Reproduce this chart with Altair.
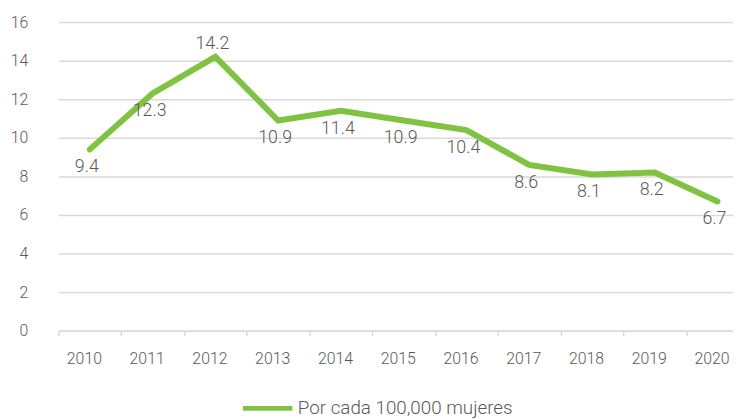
import altair as alt
import pandas as pd

years = ["2010", "2011", "2012", "2013", "2014", "2015", "2016", "2017", "2018", "2019", "2020"]
values = [9.4, 12.3, 14.2, 10.9, 11.4, 10.9, 10.4, 8.6, 8.1, 8.2, 6.7]
series_name = "Por cada 100,000 mujeres"
y_ticks = [0, 2, 4, 6, 8, 10, 12, 14, 16]

df = pd.DataFrame({"year": years, "value": values, "serie": series_name})

GREEN = "#80C342"
TEXT = "#595959"
GRID = "#D9D9D9"
FONT = "Roboto"

x_enc = alt.X(
    "year:O",
    bandPosition=0.5,
    scale=alt.Scale(type="band", range=[0, 698], paddingInner=0, paddingOuter=0),
    axis=alt.Axis(
        title=None, labelAngle=0, tickBand="extent", domainColor=GRID, domainWidth=1.5,
        tickColor=GRID, tickWidth=1.5, tickSize=5, labelPadding=15, labelFontSize=16,
        labelColor=TEXT, labelFont=FONT, labelFontWeight=300, grid=False,
        labelOffset=-6,
    ),
)
y_enc = alt.Y(
    "value:Q",
    scale=alt.Scale(domain=[0, 16], nice=False),
    axis=alt.Axis(
        title=None, values=y_ticks, domain=False, ticks=False, labelPadding=31,
        labelFontSize=16, labelColor=TEXT, labelFont=FONT, labelFontWeight=300,
        gridColor=GRID, gridWidth=1.5, labelOverlap=False,
    ),
)

base = alt.Chart(df)

line = base.mark_line(strokeWidth=6, strokeCap="round", strokeJoin="miter").encode(
    x=x_enc,
    y=y_enc,
    color=alt.Color(
        "serie:N",
        scale=alt.Scale(range=[GREEN]),
        legend=alt.Legend(
            title=None, orient="none", legendX=184, legendY=363, padding=0,
            symbolType="stroke", symbolSize=2500, symbolStrokeWidth=5,
            symbolStrokeColor=GREEN, labelFontSize=19, labelColor=TEXT,
            labelFont=FONT, labelFontWeight=300, labelOffset=3, labelLimit=400,
        ),
    ),
)

labels_below = (
    base.transform_joinaggregate(vmax="max(value)")
    .transform_filter("datum.value < datum.vmax")
    .mark_text(dy=18, dx=-3, fontSize=18, font=FONT, fontWeight=300, color=TEXT)
    .encode(x=x_enc, y=y_enc, text=alt.Text("value:Q", format=".1f"))
)
labels_above = (
    base.transform_joinaggregate(vmax="max(value)")
    .transform_filter("datum.value == datum.vmax")
    .mark_text(dy=-13, dx=-3, fontSize=18, font=FONT, fontWeight=300, color=TEXT)
    .encode(x=x_enc, y=y_enc, text=alt.Text("value:Q", format=".1f"))
)

chart = (
    alt.layer(line, labels_below, labels_above)
    .properties(
        width=682, height=312,
        autosize=alt.AutoSizeParams(type="none"),
        padding={"left": 51, "top": 12, "right": 0, "bottom": 87},
        background="white",
    )
    .configure_view(stroke=None)
)

chart.save("out.html", embed_options={"renderer": "svg", "actions": False})
